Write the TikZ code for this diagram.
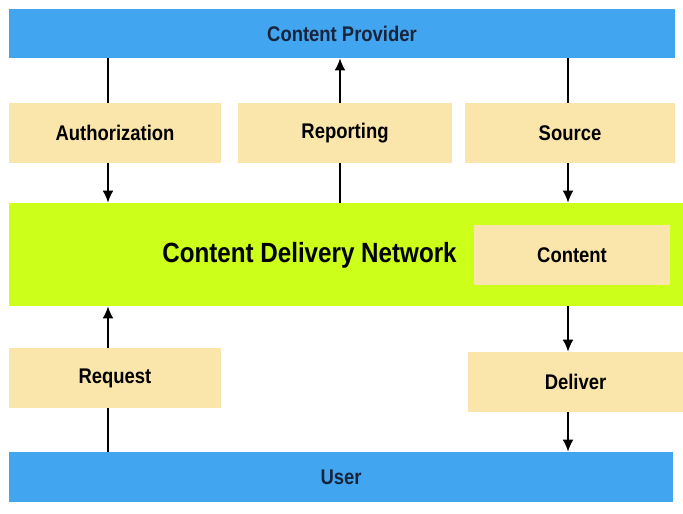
\documentclass[tikz,border=0pt]{standalone}
\usepackage{fontspec}
\setmainfont{Liberation Sans}[FakeStretch=0.87]
\usetikzlibrary{arrows.meta}
\definecolor{barblue}{RGB}{66,165,240}
\definecolor{boxyel}{RGB}{250,230,170}
\definecolor{netgreen}{RGB}{204,255,26}
\definecolor{navy}{RGB}{24,36,60}
\tikzset{
  arr/.style={line width=0.75pt, -{Latex[length=2.1mm, width=1.9mm]}},
  lin/.style={line width=0.75pt},
  bar/.style={fill=barblue, draw=none, minimum height=24.5pt, inner sep=0pt,
    font=\fontsize{10.6}{12}\selectfont\bfseries, text=navy},
  tag/.style={fill=boxyel, draw=none, minimum height=30pt, inner sep=0pt,
    font=\fontsize{10.6}{12}\selectfont\bfseries},
}

\begin{document}
\begin{tikzpicture}[x=0.5pt, y=-0.5pt]
\useasboundingbox (0,0) rectangle (683,513);

\node[bar, minimum width=333pt] (prov) at (342,33.5) {Content Provider};
\node[tag, minimum width=106pt] (auth) at (115,133) {Authorization};
\node[tag, minimum width=107pt] (rep) at (345,133) {Reporting};
\node[tag, minimum width=105pt] (src) at (570,133) {Source};

\node[fill=netgreen, minimum width=337pt, minimum height=51.5pt, inner sep=0pt] (cdn) at (346,254.5) {};
\node[font=\fontsize{13.9}{16}\selectfont\bfseries] (cdnlbl) at (309.5,255) {Content Delivery Network};
\node[tag, minimum width=98pt] (cont) at (572,255) {Content};

\node[tag, minimum width=106pt] (req) at (115,378) {Request};
\node[tag, minimum width=107.5pt] (dlv) at (575.5,382) {Deliver};
\node[bar, minimum width=332pt, minimum height=25pt] (user) at (341,477) {User};

\coordinate (xa) at (108,0);
\coordinate (xr) at (340,0);
\coordinate (xs) at (568,0);

\draw[lin] (prov.south -| xa) -- (auth.north -| xa);
\draw[arr] (auth.south -| xa) -- (cdn.north -| xa);
\draw[lin] (cdn.north -| xr) -- (rep.south -| xr);
\draw[arr] (rep.north -| xr) -- (prov.south -| xr);
\draw[lin] (prov.south -| xs) -- (src.north -| xs);
\draw[arr] (src.south -| xs) -- (cdn.north -| xs);

\draw[lin] (user.north -| xa) -- (req.south -| xa);
\draw[arr] (req.north -| xa) -- (cdn.south -| xa);
\draw[arr] (cdn.south -| xs) -- (dlv.north -| xs);
\draw[arr] (dlv.south -| xs) -- (user.north -| xs);

\end{tikzpicture}
\end{document}
